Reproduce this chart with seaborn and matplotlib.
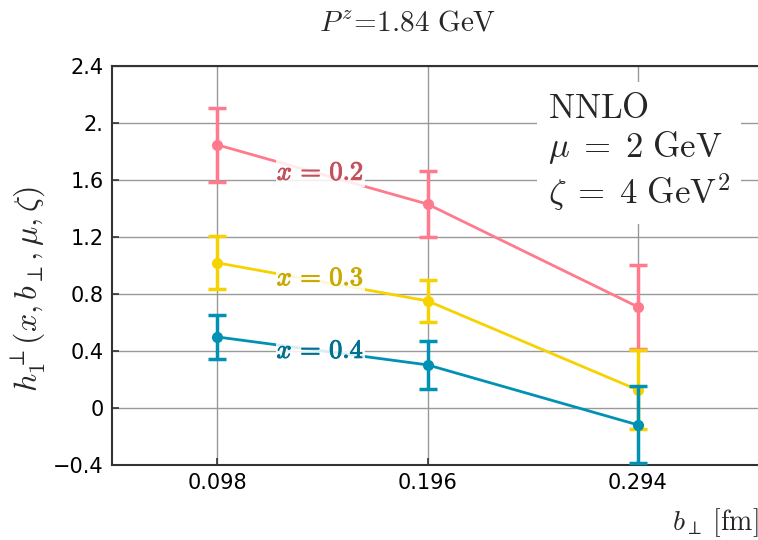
import numpy as np
import pandas as pd
import matplotlib
matplotlib.use("Agg")
import matplotlib.pyplot as plt
import matplotlib.patheffects as pe
import seaborn as sns

b_perp = [0.098, 0.196, 0.294]
x_labels = ["$x\\,=\\,0.2$", "$x\\,=\\,0.3$", "$x\\,=\\,0.4$"]
vals_02 = [1.846, 1.430, 0.709]
errs_02 = [0.260, 0.230, 0.295]
vals_03 = [1.018, 0.751, 0.126]
errs_03 = [0.186, 0.145, 0.277]
vals_04 = [0.498, 0.302, -0.119]
errs_04 = [0.155, 0.168, 0.270]
line_colors = ["#FF7A8C", "#F6D200", "#0091B3"]
label_colors = ["#C4505E", "#C9AA00", "#00718E"]
label_pos = [(0.146, 1.65), (0.146, 0.91), (0.146, 0.40)]
yticks = [-0.4, 0.0, 0.4, 0.8, 1.2, 1.6, 2.0, 2.4]
ytick_labels = ["\u22120.4", "0", "0.4", "0.8", "1.2", "1.6", "2.", "2.4"]

sns.set_theme(style="white")
plt.rcParams["mathtext.fontset"] = "cm"
plt.rcParams["font.family"] = ["DejaVu Sans"]

fig = plt.figure(figsize=(7.58, 5.40), dpi=100)
ax = fig.add_axes([0.148, 0.139, 0.852, 0.739])

series = [(vals_02, errs_02), (vals_03, errs_03), (vals_04, errs_04)]
for i, (v, e) in enumerate(series):
    df = pd.DataFrame({"b": b_perp, "h": v})
    sns.lineplot(data=df, x="b", y="h", ax=ax, color=line_colors[i], lw=2,
                 marker="o", markersize=8, markeredgewidth=0, zorder=3 + i * 0.1)
    ax.errorbar(b_perp, v, yerr=e, fmt="none", ecolor=line_colors[i],
                elinewidth=2.5, capsize=6.5, capthick=2.5, zorder=3 + i * 0.1)
    t = ax.text(label_pos[i][0], label_pos[i][1], x_labels[i], color=label_colors[i],
                fontsize=19, ha="center", va="center", zorder=4,
                bbox=dict(facecolor="white", edgecolor="none", alpha=0.85, pad=0.5))
    t.set_path_effects([pe.withStroke(linewidth=0.7, foreground=label_colors[i])])

ax.set_xlim(0.049, 0.350)
ax.set_ylim(-0.4, 2.4)
ax.set_xticks(b_perp)
ax.set_xticklabels(["0.098", "0.196", "0.294"])
ax.set_yticks(yticks)
ax.set_yticklabels(ytick_labels)
ax.grid(True, color="#999999", lw=1, zorder=0)
ax.set_axisbelow(True)
ax.tick_params(axis="both", direction="in", length=5, width=1.2, labelsize=15,
               color="#333333", labelcolor="black", left=True, bottom=True, pad=6)
for s in ["left", "bottom", "top"]:
    ax.spines[s].set_color("#333333")
    ax.spines[s].set_linewidth(1.5)
ax.spines["right"].set_visible(False)
ax.set_xlabel("")
ax.set_ylabel("")

fig.text(0.038, 0.465, "$h_1^{\\perp}(x,b_{\\perp},\\mu,\\zeta)$", rotation=90,
         fontsize=23, ha="center", va="center")
fig.text(0.943, 0.033, "$b_{\\perp}\\;[\\mathrm{fm}]$", fontsize=20, ha="center", va="center")
fig.text(0.538, 0.958, "$P^z\\!=\\!1.84\\ \\mathrm{GeV}$", fontsize=21, ha="center", va="center")

ax.text(0.675, 0.937,
        "$\\mathrm{NNLO}$\n$\\mu\\;=\\;2\\ \\mathrm{GeV}$\n$\\zeta\\;=\\;4\\ \\mathrm{GeV}^2$",
        transform=ax.transAxes, fontsize=25, ha="left", va="top", linespacing=1.15,
        zorder=5, bbox=dict(facecolor="white", edgecolor="none", pad=8))

fig.savefig("out.png", dpi=100)
